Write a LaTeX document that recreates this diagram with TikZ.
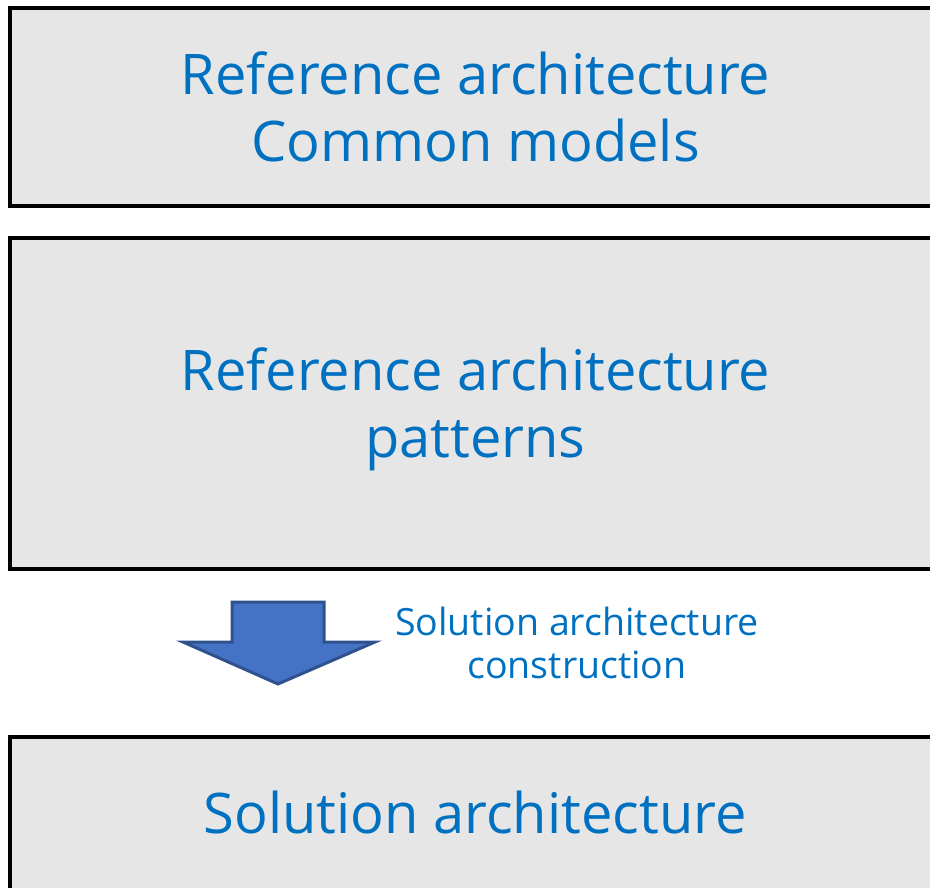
\documentclass[tikz,border=0pt]{standalone}
\usepackage{fontspec}
\setmainfont{Open Sans}
\definecolor{boxfill}{HTML}{E6E6E6}
\definecolor{textblue}{HTML}{0070C0}
\definecolor{arrowfill}{HTML}{4472C4}
\definecolor{arrowline}{HTML}{2F528F}
\begin{document}
\begin{tikzpicture}[x=1pt,y=-1pt,
  layerbox/.style={draw=black,line width=4.5pt,fill=boxfill,inner sep=0pt},
  layertext/.style={text=textblue,align=center,inner sep=0pt,
    font=\fontsize{56}{67}\selectfont},
  note/.style={text=textblue,align=center,inner sep=0pt,
    font=\fontsize{37.5}{43}\selectfont}]
\useasboundingbox (0,0) rectangle (930,888);
% three stacked layers (right and bottom edges run off the page)
\node[layerbox,minimum width=935pt,minimum height=198pt] (common) at (477.5,107) {};
\node[layertext] (commontext) at (475.5,107)
  {Reference architecture\\Common models};
\node[layerbox,minimum width=935pt,minimum height=331pt] (patterns) at (477.5,403.5) {};
\node[layertext] (patternstext) at (475.5,409.5)
  {Reference architecture\\patterns};
\node[layerbox,minimum width=935pt,minimum height=200pt] (solution) at (477.5,837) {};
\node[layertext,anchor=base] (solutiontext) at (475,833) {Solution architecture};
% block arrow pointing down
\draw[draw=arrowline,fill=arrowfill,line width=3pt,line join=miter]
  (232,602) -- (324,602) -- (324,642) -- (375,642) -- (278,684)
  -- (183,642) -- (232,642) -- cycle;
\coordinate (arrowtip) at (278,684);
% last line of the note sits on the base anchor
\node[note,anchor=base] (construct) at (577,678)
  {Solution architecture\\construction};
\end{tikzpicture}
\end{document}
